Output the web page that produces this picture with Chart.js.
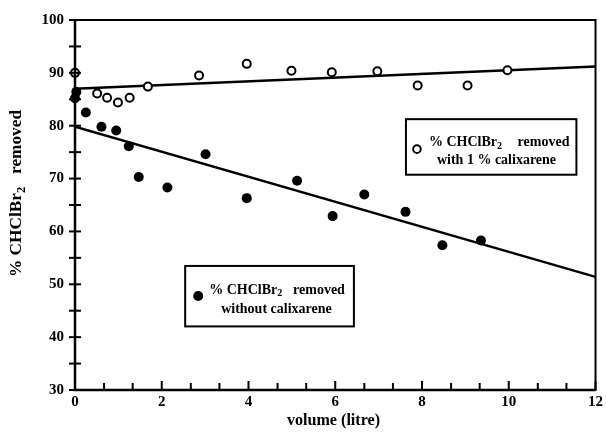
<!DOCTYPE html>
<html>
<head>
<meta charset="utf-8">
<script src="https://cdn.jsdelivr.net/npm/chart.js@4.4.0/dist/chart.umd.min.js"></script>
<style>
  html, body { margin: 0; padding: 0; background: #fff; }
  #wrap { width: 606px; height: 433px; }
</style>
</head>
<body>
<div id="wrap"><canvas id="myChart" width="606" height="433"></canvas></div>
<script>
// data
var withX = [0, 0.51, 0.74, 0.99, 1.26, 1.68, 2.86, 3.96, 4.99, 5.92, 6.97, 7.9, 9.05, 9.97];
var withY = [90, 86.1, 85.3, 84.4, 85.3, 87.4, 89.5, 91.7, 90.4, 90.1, 90.3, 87.6, 87.6, 90.5];
var withoutX = [0.03, 0, 0.25, 0.61, 0.95, 1.24, 1.47, 2.13, 3.01, 3.96, 5.12, 5.94, 6.67, 7.62, 8.47, 9.36];
var withoutY = [86.4, 85.2, 82.5, 79.8, 79.1, 76.1, 70.3, 68.3, 74.6, 66.3, 69.6, 62.9, 67.0, 63.7, 57.4, 58.3];
// fitted lines (ends at x = 0 and 12)
var fitX = [0, 12];
var withFitY = [87.0, 91.2];
var withoutFitY = [79.8, 51.4];
// axis ticks
var xTicks = [0, 2, 4, 6, 8, 10, 12];
var yTicks = [30, 40, 50, 60, 70, 80, 90, 100];
var xMinor = [0.67, 1.33, 2.67, 3.33, 4.67, 5.33, 6.67, 7.33, 8.67, 9.33, 10.67, 11.33];
var yMinor = [35, 45, 55, 65, 75, 85, 95];

var SERIF = "'Liberation Serif', 'DejaVu Serif', serif";

function pts(xs, ys) {
  return xs.map(function (x, i) { return { x: x, y: ys[i] }; });
}

// draws text pieces (some as subscripts), optionally squeezed to a width
function drawParts(ctx, parts, x, y, size, width) {
  var total = 0;
  parts.forEach(function (p) {
    ctx.font = "bold " + (p.sub ? size * 0.72 : size) + "px " + SERIF;
    total += ctx.measureText(p.t).width;
  });
  var k = width ? width / total : 1;
  ctx.save();
  ctx.translate(x, y);
  ctx.scale(k, 1);
  var cx = 0;
  parts.forEach(function (p) {
    ctx.font = "bold " + (p.sub ? size * 0.72 : size) + "px " + SERIF;
    ctx.fillText(p.t, cx, p.sub ? size * 0.28 : 0);
    cx += ctx.measureText(p.t).width;
  });
  ctx.restore();
  return total * k;
}

var decor = {
  id: "decor",
  afterDatasetsDraw: function (chart) {
    var ctx = chart.ctx;
    var a = chart.chartArea;
    var xs = chart.scales.x, ys = chart.scales.y;
    ctx.save();
    ctx.strokeStyle = "#000";
    ctx.fillStyle = "#000";

    // frame
    ctx.lineWidth = 2;
    ctx.strokeRect(a.left, a.top, a.right - a.left, a.bottom - a.top);
    ctx.lineWidth = 2.5;
    ctx.beginPath();
    ctx.moveTo(a.left, a.top); ctx.lineTo(a.left, a.bottom); ctx.lineTo(a.right, a.bottom);
    ctx.stroke();

    // y ticks crossing the axis
    ctx.lineWidth = 2;
    yTicks.concat(yMinor).forEach(function (v) {
      var py = ys.getPixelForValue(v);
      ctx.beginPath(); ctx.moveTo(a.left - 6, py); ctx.lineTo(a.left + 6, py); ctx.stroke();
    });
    // x ticks pointing inwards
    xTicks.forEach(function (v) {
      var px = xs.getPixelForValue(v);
      ctx.beginPath(); ctx.moveTo(px, a.bottom); ctx.lineTo(px, a.bottom - 9); ctx.stroke();
    });
    xMinor.forEach(function (v) {
      var px = xs.getPixelForValue(v);
      ctx.beginPath(); ctx.moveTo(px, a.bottom); ctx.lineTo(px, a.bottom - 7); ctx.stroke();
    });

    // legend boxes
    function box(x0, x1, y0, y1) {
      var l = xs.getPixelForValue(x0), r = xs.getPixelForValue(x1);
      var t = ys.getPixelForValue(y0), b = ys.getPixelForValue(y1);
      ctx.fillStyle = "#fff";
      ctx.fillRect(l, t, r - l, b - t);
      ctx.lineWidth = 2;
      ctx.strokeRect(l, t, r - l, b - t);
      ctx.fillStyle = "#000";
      return { l: l, r: r, t: t, b: b };
    }
    ctx.textBaseline = "middle";
    ctx.textAlign = "left";
    var sub2 = [{ t: "% CHClBr" }, { t: "2", sub: true }];

    var b1 = box(7.63, 11.56, 81.24, 70.73);
    ctx.beginPath(); ctx.arc(b1.l + 11, b1.t + 30, 3.8, 0, Math.PI * 2);
    ctx.fillStyle = "#fff"; ctx.fill(); ctx.lineWidth = 2; ctx.stroke(); ctx.fillStyle = "#000";
    drawParts(ctx, sub2, b1.l + 23, b1.t + 23, 14);
    ctx.font = "bold 14px " + SERIF;
    ctx.textAlign = "right";
    ctx.fillText("removed", b1.r - 7, b1.t + 23);
    ctx.textAlign = "left";
    ctx.fillText("with 1 % calixarene", b1.l + 31, b1.t + 41);

    var b2 = box(2.54, 6.43, 53.47, 42.03);
    ctx.beginPath(); ctx.arc(b2.l + 13, b2.t + 30, 5, 0, Math.PI * 2); ctx.fill();
    drawParts(ctx, sub2, b2.l + 24, b2.t + 24, 14);
    ctx.font = "bold 14px " + SERIF;
    ctx.textAlign = "right";
    ctx.fillText("removed", b2.r - 9, b2.t + 24);
    ctx.textAlign = "left";
    ctx.fillText("without calixarene", b2.l + 36, b2.t + 43);

    // axis titles
    drawParts(ctx, [{ t: "volume (litre)" }], 287, 421, 16, 93);

    ctx.save();
    ctx.translate(17, 277);
    ctx.rotate(-Math.PI / 2);
    drawParts(ctx, [{ t: "% CHClBr" }, { t: "2", sub: true }, { t: "   removed" }], 0, 0, 17, 167);
    ctx.restore();

    ctx.restore();
  }
};

function renderChart() {
  var config = {
    type: "scatter",
    data: {
      datasets: [
        {
          label: "with 1 % calixarene",
          data: pts(withX, withY),
          pointRadius: 4,
          pointBorderWidth: 2,
          pointBackgroundColor: "#fff",
          pointBorderColor: "#000",
          clip: false
        },
        {
          label: "without calixarene",
          data: pts(withoutX, withoutY),
          pointRadius: 5,
          pointBorderWidth: 0,
          pointBackgroundColor: "#000",
          pointBorderColor: "#000",
          clip: false
        },
        {
          type: "line",
          label: "fit with",
          data: pts(fitX, withFitY),
          borderColor: "#000",
          borderWidth: 2.5,
          pointRadius: 0,
          fill: false
        },
        {
          type: "line",
          label: "fit without",
          data: pts(fitX, withoutFitY),
          borderColor: "#000",
          borderWidth: 2.5,
          pointRadius: 0,
          fill: false
        }
      ]
    },
    options: {
      responsive: false,
      animation: false,
      layout: { padding: { left: 0, top: 17, right: 7, bottom: 0 } },
      plugins: { legend: { display: false }, tooltip: { enabled: false } },
      scales: {
        x: {
          type: "linear",
          min: 0,
          max: 12,
          afterBuildTicks: function (s) { s.ticks = xTicks.map(function (v) { return { value: v }; }); },
          afterFit: function (s) { s.height = 43; },
          grid: { display: false, drawTicks: false },
          border: { display: false },
          ticks: { color: "#000", font: { family: SERIF, size: 15, weight: "bold" }, padding: 3, maxRotation: 0 }
        },
        y: {
          type: "linear",
          min: 30,
          max: 100,
          afterBuildTicks: function (s) { s.ticks = yTicks.map(function (v) { return { value: v }; }); },
          afterFit: function (s) { s.width = 75; },
          grid: { display: false, drawTicks: false },
          border: { display: false },
          ticks: { color: "#000", font: { family: SERIF, size: 15, weight: "bold" }, padding: 11 }
        }
      }
    },
    plugins: [decor]
  };
  new Chart(document.getElementById("myChart"), config);
}
renderChart();
</script>
</body>
</html>
